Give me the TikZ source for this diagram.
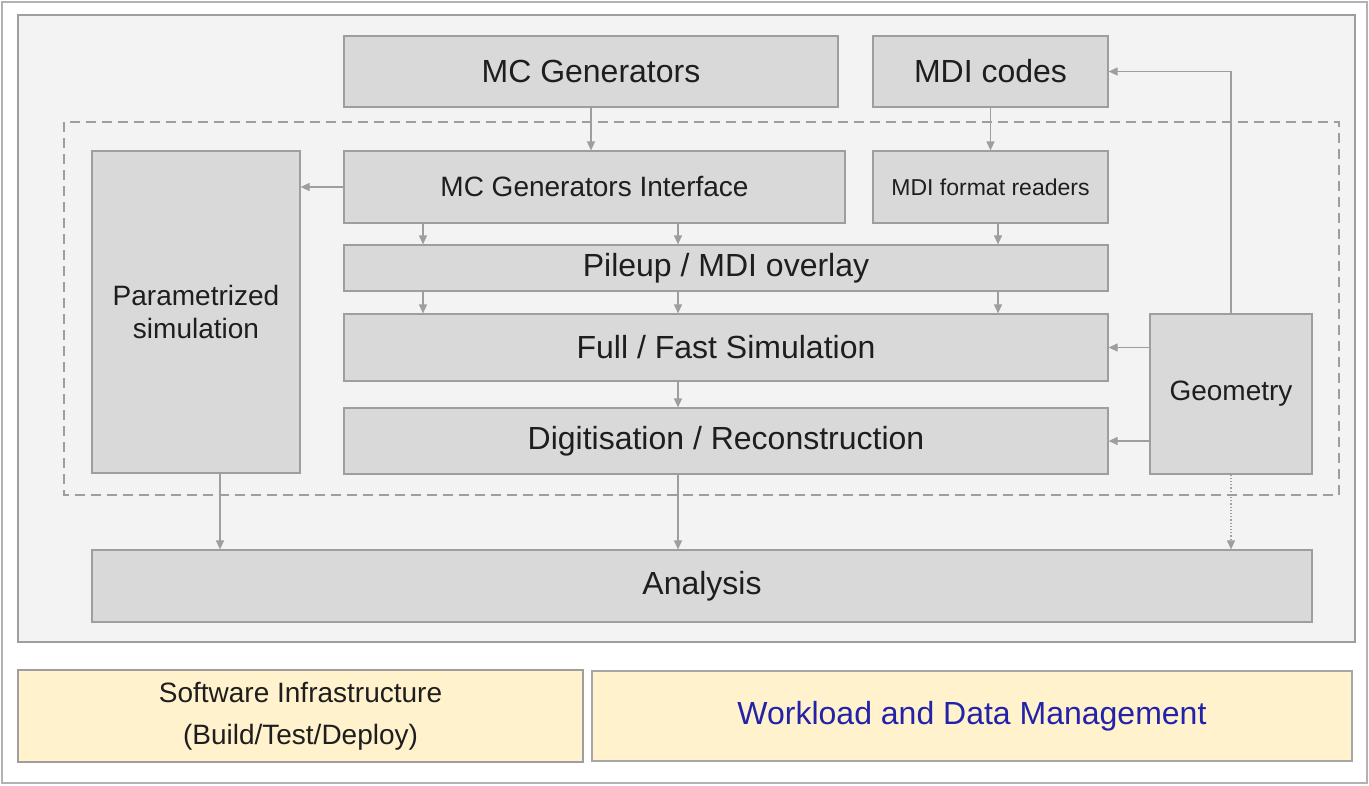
\documentclass[tikz,border=0pt]{standalone}
\usepackage{fontspec}
\setmainfont{Liberation Sans}
\usepackage{xcolor}
\usetikzlibrary{arrows.meta}
\definecolor{boxgray}{HTML}{D9D9D9}
\definecolor{panelgray}{HTML}{F3F3F3}
\definecolor{linegray}{HTML}{9E9E9E}
\definecolor{paleyellow}{HTML}{FFF2CC}
\definecolor{textblue}{HTML}{2323AA}
\definecolor{textdark}{HTML}{1E1E1E}

\begin{document}
\begin{tikzpicture}[x=1pt,y=-1pt,
  box/.style={draw=linegray,fill=boxgray,line width=1.2pt,text=textdark,align=center,inner sep=0pt},
  arr/.style={draw=linegray,line width=1.2pt,-{Triangle[length=9pt,width=8pt]}},
  big/.style={font=\fontsize{32}{38}\selectfont},
  mid/.style={font=\fontsize{28}{33}\selectfont},
  small/.style={font=\fontsize{23}{28}\selectfont}]
\useasboundingbox (0,0) rectangle (1369,785);
\draw[gray!60,line width=2pt,fill=white] (2,2) rectangle (1367,783);
\draw[linegray,line width=1.2pt,fill=panelgray] (18,15) rectangle (1355,642);
\draw[linegray,line width=1.2pt,dash pattern=on 10pt off 6pt] (64,122) rectangle (1339,495);
% columns of the vertical arrows
\coordinate (c0) at (220,0);
\coordinate (c1) at (423,0);
\coordinate (c2) at (678,0);
\coordinate (c3) at (998,0);

      \node[box,big,minimum width=494pt,minimum height=71pt] (mcgen) at (591,71.5) {MC Generators};
      \node[box,big,minimum width=235pt,minimum height=71pt] (mdicodes) at (990.5,71.5) {MDI codes};
      \node[box,mid,minimum width=208pt,minimum height=322pt] (paramsim) at (196,312) {Parametrized\\simulation};
      \node[box,mid,minimum width=501pt,minimum height=72pt] (mcgenif) at (594.5,187) {MC Generators Interface};
      \node[box,small,minimum width=235pt,minimum height=72pt] (mdireaders) at (990.5,187) {MDI format readers};
      \node[box,big,minimum width=764pt,minimum height=46pt] (pileup) at (726,268) {Pileup / MDI overlay};
      \node[box,big,minimum width=764pt,minimum height=67pt] (fullsim) at (726,347.5) {Full / Fast Simulation};
      \node[box,mid,minimum width=162pt,minimum height=160pt] (geometry) at (1231,394) {Geometry};
      \node[box,big,minimum width=764pt,minimum height=66pt] (digireco) at (726,441) {Digitisation / Reconstruction};
      \node[box,big,minimum width=1220pt,minimum height=72pt] (analysis) at (702,586) {Analysis};
      \node[box,fill=paleyellow,font=\fontsize{28}{42}\selectfont,minimum width=565pt,minimum height=92pt] (swinfra) at (300.5,716) {Software Infrastructure\\(Build/Test/Deploy)};
      \node[box,draw=gray!70,line width=2.5pt,fill=paleyellow,text=textblue,big,minimum width=760pt,minimum height=90pt] (workload) at (972,716) {Workload and Data Management};

\draw[arr] (mcgen) -- (mcgen |- mcgenif.north);
\draw[arr] (mdicodes) -- (mdireaders);
\draw[arr] (mcgenif.west) -- (paramsim.east |- mcgenif.west);
\foreach \c in {c1,c2}
  \draw[arr] (mcgenif.south -| \c) -- (pileup.north -| \c);
\draw[arr] (mdireaders.south -| c3) -- (pileup.north -| c3);
\foreach \c in {c1,c2,c3}
  \draw[arr] (pileup.south -| \c) -- (fullsim.north -| \c);
\draw[arr] (fullsim.south -| c2) -- (digireco.north -| c2);
\draw[arr] (geometry.west |- fullsim) -- (fullsim.east);
\draw[arr] (geometry.west |- digireco) -- (digireco.east);
\draw[arr] (geometry.north) |- (mdicodes.east);
\draw[arr] (paramsim.south -| c0) -- (analysis.north -| c0);
\draw[arr] (digireco.south -| c2) -- (analysis.north -| c2);
\draw[arr,dotted] (geometry.south) -- (analysis.north -| geometry.south);
\end{tikzpicture}
\end{document}
